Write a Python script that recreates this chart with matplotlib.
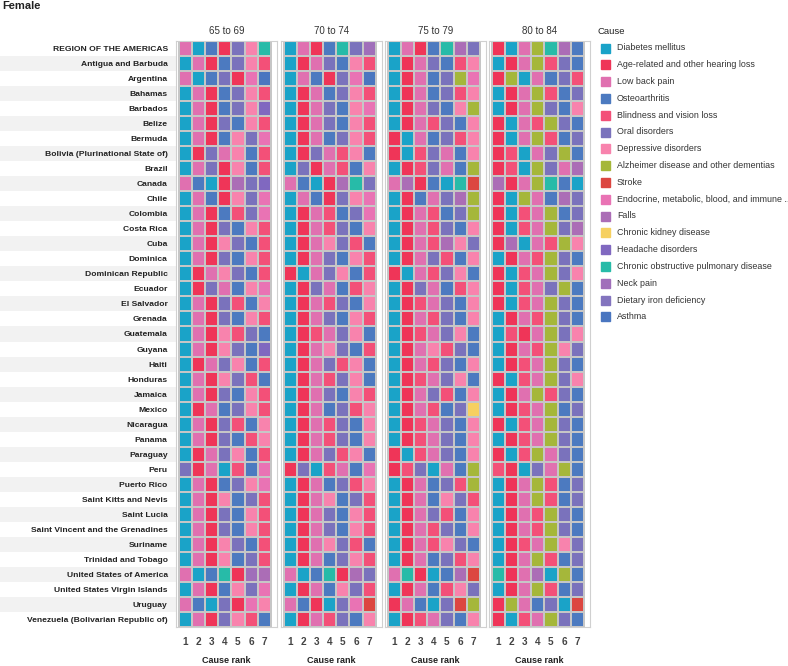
import numpy as np
import matplotlib
matplotlib.use('Agg')
import matplotlib.pyplot as plt
from matplotlib.colors import ListedColormap

plt.rcParams['font.family'] = ['Liberation Sans', 'DejaVu Sans']

causes = ['Diabetes mellitus', 'Age-related and other hearing loss', 'Low back pain',
          'Osteoarthritis', 'Blindness and vision loss', 'Oral disorders',
          'Depressive disorders', 'Alzheimer disease and other dementias', 'Stroke',
          'Endocrine, metabolic, blood, and immune ..', 'Falls', 'Chronic kidney disease',
          'Headache disorders', 'Chronic obstructive pulmonary disease', 'Neck pain',
          'Dietary iron deficiency', 'Asthma']
codes = 'DHLOBRPASEFKXCNIM'
colors = ['#1aa3c8', '#ef3558', '#e070b0', '#4c7ac0', '#f35078', '#7a72bc',
          '#f883ad', '#a5b73a', '#dc4640', '#e973b4', '#ab6db6', '#f6d060',
          '#8068c0', '#27bba8', '#a06fba', '#8374be', '#4a76c0']

countries = ['REGION OF THE AMERICAS', 'Antigua and Barbuda', 'Argentina', 'Bahamas',
             'Barbados', 'Belize', 'Bermuda', 'Bolivia (Plurinational State of)', 'Brazil',
             'Canada', 'Chile', 'Colombia', 'Costa Rica', 'Cuba', 'Dominica',
             'Dominican Republic', 'Ecuador', 'El Salvador', 'Grenada', 'Guatemala',
             'Guyana', 'Haiti', 'Honduras', 'Jamaica', 'Mexico', 'Nicaragua', 'Panama',
             'Paraguay', 'Peru', 'Puerto Rico', 'Saint Kitts and Nevis', 'Saint Lucia',
             'Saint Vincent and the Grenadines', 'Suriname', 'Trinidad and Tobago',
             'United States of America', 'United States Virgin Islands', 'Uruguay',
             'Venezuela (Bolivarian Republic of)']

age_groups = ['65 to 69', '70 to 74', '75 to 79', '80 to 84']

# ranks 1..7 per country, one letter per cause (see codes)
rank_65 = ['LDOHRPC', 'DLHORPB', 'LDORHEM', 'DLHORPB', 'DLHORPX', 'DLHROPB', 'DLHOPRE',
           'DHRLPOB', 'DLRHPOB', 'LODHFRX', 'DLOHPRE', 'DLHOBRE', 'DLHROPB', 'DLHPROB',
           'DLHROPB', 'DHLPROB', 'DHRLOPE', 'DLHRBOP', 'DLHROPB', 'DLHPBRO', 'DLHPROX',
           'DHLRPOB', 'DLHPRBO', 'DLHROPB', 'DHLORPB', 'DLHRBOP', 'DLHROBP', 'DHLRPOB',
           'RHLDBOE', 'DLHORPE', 'DLHPORB', 'DLHROPB', 'DLHROPB', 'DLHPROB', 'DLHPORB',
           'LDOCHNF', 'DLHOPRE', 'LODRHEP', 'DLHRPBO']
rank_70 = ['DLHOCRN', 'DHLROPB', 'DLOHREM', 'DHLORPB', 'DHLROPE', 'DHLROPB', 'DHLORPB',
           'DHRLBPO', 'DRHLBOP', 'LODHFCR', 'DLOHRPE', 'DHLBORE', 'DHLBROP', 'DHLPRBO',
           'DHLROPB', 'HDLRPOB', 'DHRLOBP', 'DHLBROP', 'DHLROPB', 'DHBLRPO', 'DHLPROB',
           'DHLRBPO', 'DHLBRPO', 'DHLROPB', 'DHLORBP', 'DHLBROP', 'DHLBROP', 'DHLRBPO',
           'HRDBLOE', 'DHLORBP', 'DHLPORB', 'DHLROPB', 'DHLROPB', 'DHLPRBO', 'DHLORPB',
           'LDOCHFR', 'DHLOPRB', 'LOHDRES', 'DHLBROP']
rank_75 = ['DLHOCFR', 'DHLROBP', 'DHLORAE', 'DHLORBP', 'DHLROPA', 'DHLBROP', 'HDLORBP',
           'HDBRLOP', 'DHBRLOA', 'LFHODCS', 'DHOLRFA', 'DHLBORA', 'DHLBROP', 'DHLBFPR',
           'DHLRBOP', 'HDLBRPO', 'DHRLOBP', 'DHBLROP', 'DHLBROP', 'DHBLRPO', 'DHLPBRO',
           'DHLBROP', 'DHBLRPO', 'DHLRBOP', 'DHLBORK', 'DHBLROP', 'DHBLROP', 'HDBLROP',
           'HBRDLOA', 'DHLORBA', 'DHLOPRB', 'DHLRBOP', 'DHLBROP', 'DHLBPRO', 'DHLORBP',
           'LCHDOFS', 'DHLOBPR', 'HLODRSA', 'DHBLROP']
rank_80 = ['HDLACFO', 'DHLABRO', 'HADLORB', 'DHLABOR', 'DHLAROP', 'HDLBARO', 'HDLABOR',
           'HBDLRAO', 'HBDARLF', 'FHLACOD', 'HDALOFR', 'HDBLAOR', 'HDBLARF', 'HFDLBAP',
           'DHLBARO', 'HDBLARP', 'HDBLRAO', 'HDBLARO', 'DHLBARO', 'DBHLARP', 'DHLBAPR',
           'DHBLARO', 'HDBLARP', 'DHLABRO', 'DHBLAOR', 'HDBLARO', 'DHBLARO', 'HDBALRO',
           'BHDRLAO', 'DHLABOR', 'DHLABOR', 'DHLBARO', 'DHLBARO', 'DHBLAPR', 'DHLABOR',
           'CHLFDAO', 'DHLABOR', 'HALORDS', 'HDBLARO']
ranks = [rank_65, rank_70, rank_75, rank_80]

W, H = 788, 666
fig = plt.figure(figsize=(W / 100, H / 100), dpi=100)
n = len(countries)
top, bot = 41, 627
cmap = ListedColormap(colors)


def box(x0, x1):
    return [x0 / W, 1 - bot / H, (x1 - x0) / W, (bot - top) / H]


# row banding behind the labels
bg = fig.add_axes(box(0, 176))
bg.set_xlim(0, 1)
bg.set_ylim(n, 0)
for i in range(1, n, 2):
    bg.axhspan(i, i + 1, color='#f2f2f2', lw=0)
bg.axis('off')

cell_w = 13.1
starts = [179, 284, 388, 492]
for k, age in enumerate(age_groups):
    ax = fig.add_axes(box(starts[k] - 3, starts[k] + 98))
    mat = np.array([[codes.index(c) for c in row] for row in ranks[k]])
    ax.pcolormesh(np.arange(8), np.arange(n + 1), mat, cmap=cmap, vmin=-0.5,
                  vmax=len(colors) - 0.5, edgecolors='#c6c6c6', linewidth=1.1)
    ax.set_xlim(-3 / cell_w, 98 / cell_w)
    ax.set_ylim(n, 0)
    for s in ax.spines.values():
        s.set_color('#d0d0d0')
        s.set_linewidth(0.8)
    ax.set_xticks(np.arange(7) + 0.5)
    ax.set_xticklabels([str(i) for i in range(1, 8)], fontsize=7.2, color='#444',
                       fontweight='bold')
    ax.tick_params(axis='x', length=0, pad=7)
    ax.set_xlabel('Cause rank', fontsize=6.5, fontweight='bold', color='#222', labelpad=7)
    ax.set_title(age, fontsize=7, color='#333', pad=5)
    if k == 0:
        ax.set_yticks(np.arange(n) + 0.5)
        ax.set_yticklabels(countries, fontsize=6.1, color='#222', fontweight='bold')
        ax.tick_params(axis='y', length=0, pad=6)
    else:
        ax.set_yticks([])

fig.text(2 / W, 1 - 1 / H, 'Female', fontsize=8, fontweight='bold', color='#222',
         va='top', ha='left')

# legend
fig.text(597 / W, 1 - 32 / H, 'Cause', fontsize=6.8, color='#222', va='center')
for i, name in enumerate(causes):
    y = 1 - (48 + 16.8 * i) / H
    fig.patches.append(plt.Rectangle((601 / W, y - 4.5 / H), 9 / W, 9 / H,
                                     transform=fig.transFigure, color=colors[i]))
    fig.text(617 / W, y, name, fontsize=6.4, color='#333', va='center')

fig.savefig('out.png', dpi=100)
